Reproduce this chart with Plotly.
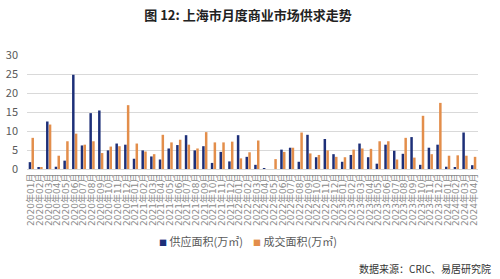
import plotly.graph_objects as go

months = [f"{y}年{m:02d}月" for y in range(2020, 2025) for m in range(1, 13)][:52]

supply = [1.8, 0.35, 12.5, 0.6, 2.2, 24.8, 6.2, 14.7, 15.4, 4.9, 6.7, 6.4,
          2.7, 4.9, 3.3, 2.5, 5.4, 6.3, 8.9, 4.9, 6.0, 1.6, 4.5, 2.0,
          8.9, 3.2, 1.1, 0.25, 0, 5.1, 5.6, 1.9, 9.0, 3.1, 7.9, 3.9,
          1.9, 3.7, 6.7, 3.1, 1.4, 6.4, 4.8, 4.0, 8.4, 1.1, 5.6, 6.4,
          0.6, 0.3, 9.6, 1.0]
deal = [8.2, 0.5, 11.7, 3.5, 7.3, 9.3, 6.4, 7.3, 4.2, 5.9, 6.0, 16.8,
        6.7, 4.6, 3.9, 9.0, 7.0, 7.7, 6.4, 5.4, 9.7, 7.0, 7.0, 7.2,
        2.8, 4.4, 7.5, 0, 2.6, 4.5, 5.6, 9.6, 4.1, 3.7, 4.9, 3.2,
        3.1, 5.1, 5.4, 5.3, 7.3, 7.3, 2.5, 8.2, 3.0, 14.0, 3.9, 17.4,
        3.5, 3.6, 3.5, 3.2]

series_names = ["供应面积(万㎡)", "成交面积(万㎡)"]
colors = ["#1d2f78", "#e38e4b"]
title_text = "图 12: 上海市月度商业市场供求走势"
source_text = "数据来源：CRIC、易居研究院"

fig = go.Figure()
for name, vals, c in zip(series_names, [supply, deal], colors):
    fig.add_trace(go.Bar(x=months, y=vals, name=name, marker_color=c,
                         marker_line_width=0, showlegend=False))

W, H = 500, 279
L, R, T, B = 27, 22, 55, 110
pw, ph = W - L - R, H - T - B

def px_x(p):
    return (p - L) / pw

def px_y(p):
    return (H - B - p) / ph

annotations = [dict(text=source_text, xref="paper", yref="paper",
                    x=px_x(493), y=px_y(268), xanchor="right", yanchor="middle",
                    showarrow=False, font=dict(size=10, color="#333333"))]
for name, c, xpos in zip(series_names, colors, [157, 251]):
    annotations.append(dict(
        text=f"<span style='color:{c};font-size:8px'>■</span> {name}",
        xref="paper", yref="paper", x=px_x(xpos), y=px_y(241),
        xanchor="left", yanchor="middle", showarrow=False,
        font=dict(size=11, color="#595959")))

fig.update_layout(
    template="none",
    width=W, height=H,
    margin=dict(l=L, r=R, t=T, b=B, pad=0),
    paper_bgcolor="white", plot_bgcolor="white",
    barmode="group", bargap=0.36, bargroupgap=0.1,
    font=dict(family="Noto Sans CJK SC, DejaVu Sans, sans-serif", color="#595959"),
    title=dict(text=title_text, x=0.49, xref="paper", xanchor="center",
               y=1 - 15 / H, yref="container", yanchor="middle",
               font=dict(size=13, color="#222222", family="Noto Sans CJK SC, sans-serif", weight="bold")),
    showlegend=False,
    xaxis=dict(type="category", tickmode="array", tickvals=months, ticktext=months,
               tickangle=-90, tickfont=dict(size=9, family="DejaVu Sans, Noto Sans CJK SC", color="#8a8a8a"),
               showgrid=False, showline=True, linecolor="#d9d9d9", linewidth=1,
               ticks="", automargin=False, fixedrange=True),
    yaxis=dict(range=[0, 30], tickvals=[0, 5, 10, 15, 20, 25, 30],
               tickfont=dict(size=11, color="#595959"), showgrid=True,
               gridcolor="#d9d9d9", gridwidth=1, zeroline=False, showline=False,
               ticks="", ticklabelstandoff=8, automargin=False),
    annotations=annotations,
)

fig.write_html("out.html")
